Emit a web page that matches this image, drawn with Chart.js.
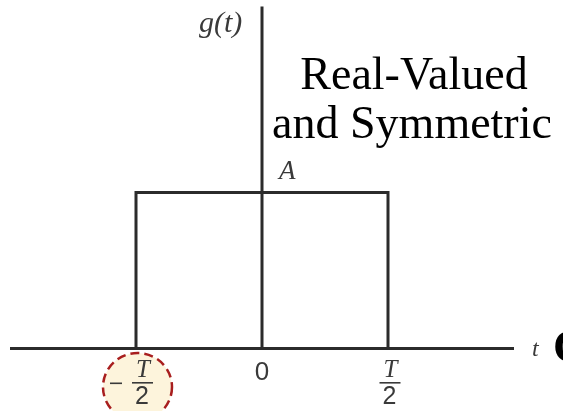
<!DOCTYPE html>
<html>
<head>
<meta charset="utf-8">
<script src="https://cdn.jsdelivr.net/npm/chart.js@4/dist/chart.umd.min.js"></script>
<style>
  html, body { margin: 0; padding: 0; background: #fff; }
  #pulse { display: block; }
</style>
</head>
<body>
<canvas id="pulse" width="563" height="411"></canvas>
<script>
// rectangular pulse g(t): height A between -T/2 and T/2 (T/2 = 1, A = 1)
const pulseT = [-1, -1, 1, 1];
const pulseG = [0, 1, 1, 0];

// axis extents
const tRange = [-2, 2];
const gRange = [-0.4, 2.2];
const gAxisTop = 2.19;

// tick labels on the t axis
const tickPos = [-1, 0, 1];
const tickText = ['-T/2', '0', 'T/2'];

const ink = '#2b2b2b';

const drawExtras = {
  id: 'drawExtras',
  afterDraw(chart) {
    const ctx = chart.ctx;
    const xs = chart.scales.x;
    const ys = chart.scales.y;
    const y0 = ys.getPixelForValue(0);

    ctx.save();
    // axes
    ctx.strokeStyle = ink;
    ctx.lineWidth = 3;
    ctx.lineCap = 'butt';
    ctx.beginPath();
    ctx.moveTo(xs.getPixelForValue(tRange[0]), y0);
    ctx.lineTo(xs.getPixelForValue(tRange[1]), y0);
    ctx.moveTo(xs.getPixelForValue(0), y0);
    ctx.lineTo(xs.getPixelForValue(0), ys.getPixelForValue(gAxisTop));
    ctx.stroke();

    // highlight ring round -T/2
    const cx = xs.getPixelForValue(tickPos[0]) + 1.5;
    ctx.beginPath();
    ctx.ellipse(cx, 387, 34.5, 34, 0, 0, Math.PI * 2);
    ctx.fillStyle = '#fdf4dc';
    ctx.fill();
    ctx.setLineDash([9, 5]);
    ctx.strokeStyle = '#a81e1e';
    ctx.lineWidth = 2.5;
    ctx.stroke();
    ctx.setLineDash([]);

    // tick labels
    tickText.forEach((lab, i) => {
      const px = xs.getPixelForValue(tickPos[i]);
      ctx.fillStyle = '#3a3a3a';
      if (lab === '0') {
        ctx.font = '26px "Liberation Sans"';
        ctx.textAlign = 'center';
        ctx.textBaseline = 'alphabetic';
        ctx.fillText('0', px, 380);
        return;
      }
      const neg = lab.startsWith('-');
      const fx = neg ? px + 6 : px + 1.5;
      ctx.font = 'italic 25px "Liberation Serif"';
      ctx.textAlign = 'center';
      ctx.fillText('T', fx + 1, 377);
      ctx.fillRect(fx - 10, 382, 21, 1.6);
      ctx.font = '25px "Liberation Sans"';
      ctx.fillText('2', fx, 404);
      if (neg) {
        ctx.fillRect(px - 26, 382.5, 12, 1.6);
      }
    });

    // axis names and level
    ctx.fillStyle = '#3a3a3a';
    ctx.font = 'italic 30px "Liberation Serif"';
    ctx.textAlign = 'left';
    ctx.fillText('g(t)', 199, 32);
    ctx.font = 'italic 27px "Liberation Serif"';
    ctx.fillText('A', 279, 179);
    ctx.font = 'italic 24px "Liberation Serif"';
    ctx.fillText('t', 532, 356);

    // annotation
    ctx.fillStyle = '#000';
    ctx.font = '46px "Liberation Serif"';
    ctx.textAlign = 'center';
    ctx.fillText('Real-Valued', 414, 89);
    ctx.fillText('and Symmetric', 412, 138);
    ctx.textAlign = 'left';
    ctx.font = 'bold 46px "Liberation Serif"';
    ctx.fillText('C', 553, 362);
    ctx.restore();
  }
};

new Chart(document.getElementById('pulse'), {
  type: 'line',
  data: {
    datasets: [{
      data: pulseT.map((t, i) => ({ x: t, y: pulseG[i] })),
      borderColor: ink,
      borderWidth: 3,
      borderJoinStyle: 'miter',
      pointRadius: 0,
      tension: 0,
      fill: false
    }]
  },
  options: {
    responsive: false,
    animation: false,
    events: [],
    layout: { padding: { left: 10, right: 49, top: 5, bottom: 0 } },
    plugins: { legend: { display: false }, tooltip: { enabled: false } },
    scales: {
      x: { type: 'linear', min: tRange[0], max: tRange[1], display: false },
      y: { type: 'linear', min: gRange[0], max: gRange[1], display: false }
    }
  },
  plugins: [drawExtras]
});
</script>
</body>
</html>
